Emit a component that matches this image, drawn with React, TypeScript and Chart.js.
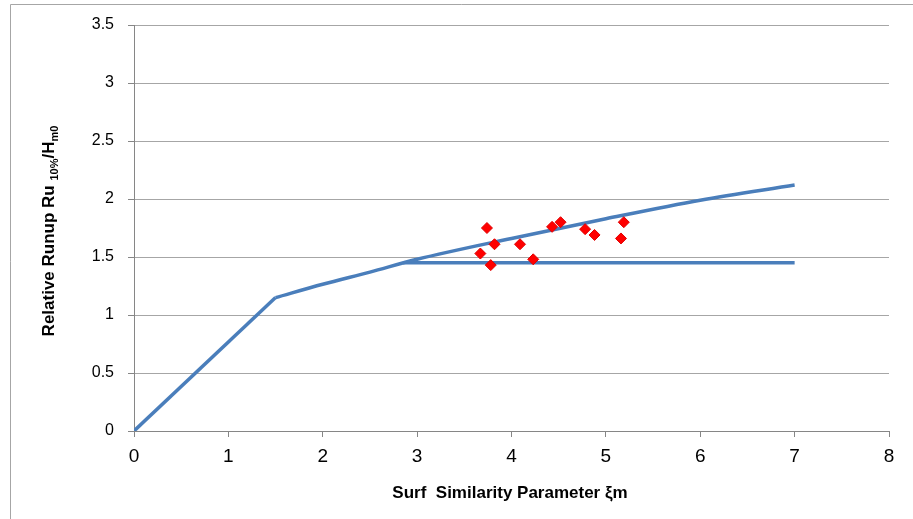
import React, { useEffect, useRef } from "react";
import { Chart, registerables } from "chart.js";

Chart.register(...registerables);

// Straight steep branch
const steepX = [0, 1.5];
const steepY = [0, 1.15];

// Predicted runup curve (upper branch)
const curveX = [1.5, 2.0, 2.5, 3.0, 4.0, 5.0, 6.0, 7.0];
const curveY = [1.15, 1.265, 1.37, 1.48, 1.66, 1.83, 1.99, 2.12];

// Horizontal limit branch
const limitX = [2.85, 7.0];
const limitY = [1.45, 1.45];

// Measured data (red diamonds)
const measX = [3.74, 3.82, 3.67, 3.78, 4.09, 4.23, 4.43, 4.52, 4.78, 4.88, 5.16, 5.19];
const measY = [1.75, 1.61, 1.53, 1.43, 1.61, 1.48, 1.76, 1.8, 1.74, 1.69, 1.66, 1.8];

const xTicks = [0, 1, 2, 3, 4, 5, 6, 7, 8];
const yTicks = [0, 0.5, 1, 1.5, 2, 2.5, 3, 3.5];

const xTitle = "Surf  Similarity Parameter ξm";
const yTitleParts: [string, boolean][] = [
  ["Relative Runup Ru ", false],
  ["10%", true],
  ["/H", false],
  ["m0", true],
];

const toPts = (xs: number[], ys: number[]) => xs.map((x, i) => ({ x, y: ys[i] }));

const decorPlugin = {
  id: "decor",
  afterDraw(chart: any) {
    const ctx = chart.ctx as CanvasRenderingContext2D;
    ctx.save();
    // outer border
    ctx.strokeStyle = "#A6A6A6";
    ctx.lineWidth = 1;
    ctx.beginPath();
    ctx.moveTo(10.5, 519);
    ctx.lineTo(10.5, 4.5);
    ctx.lineTo(913, 4.5);
    ctx.stroke();

    // x title
    ctx.fillStyle = "#000";
    ctx.font = "bold 17px 'Liberation Sans', Arial, sans-serif";
    ctx.textAlign = "center";
    ctx.textBaseline = "alphabetic";
    ctx.fillText(xTitle, 510, 498, 244);

    // y title with subscripts
    const bigFont = "bold 17px 'Liberation Sans', Arial, sans-serif";
    const smallFont = "bold 11px 'Liberation Sans', Arial, sans-serif";
    let total = 0;
    const widths = yTitleParts.map(([t, sub]) => {
      ctx.font = sub ? smallFont : bigFont;
      const w = ctx.measureText(t).width;
      total += w;
      return w;
    });
    ctx.translate(54, 231);
    ctx.rotate(-Math.PI / 2);
    ctx.textAlign = "left";
    let xpos = -total / 2;
    yTitleParts.forEach(([t, sub], i) => {
      ctx.font = sub ? smallFont : bigFont;
      ctx.fillText(t, xpos, sub ? 4 : 0);
      xpos += widths[i];
    });
    ctx.restore();
  },
};

export default function App() {
  const ref = useRef<HTMLCanvasElement>(null);
  useEffect(() => {
    if (!ref.current) return;
    const blue = "#4A7EBB";
    const chart = new Chart(ref.current, {
      type: "scatter",
      data: {
        datasets: [
          {
            label: "Measured",
            data: toPts(measX, measY),
            pointStyle: "rectRot",
            pointRadius: 5.5,
            pointBackgroundColor: "#FF0000",
            pointBorderColor: "#E00000",
            pointBorderWidth: 1,
            showLine: false,
            order: 0,
          },
          {
            label: "Steep",
            data: toPts(steepX, steepY),
            showLine: true,
            borderColor: blue,
            borderWidth: 3.5,
            pointRadius: 0,
            order: 1,
          },
          {
            label: "Curve",
            data: toPts(curveX, curveY),
            showLine: true,
            borderColor: blue,
            borderWidth: 3.5,
            pointRadius: 0,
            cubicInterpolationMode: "monotone",
            order: 1,
          },
          {
            label: "Limit",
            data: toPts(limitX, limitY),
            showLine: true,
            borderColor: blue,
            borderWidth: 3.5,
            pointRadius: 0,
            order: 2,
          },
        ],
      },
      options: {
        responsive: false,
        animation: false,
        devicePixelRatio: 1,
        layout: { padding: { top: 25, right: 24, left: 0, bottom: 0 } },
        plugins: { legend: { display: false }, tooltip: { enabled: false } },
        scales: {
          x: {
            type: "linear",
            min: 0,
            max: 8,
            afterBuildTicks: (s: any) => {
              s.ticks = xTicks.map((v) => ({ value: v }));
            },
            afterFit: (s: any) => {
              s.height = 88;
            },
            grid: {
              drawOnChartArea: false,
              drawTicks: true,
              tickLength: 6,
              color: "#868686",
            },
            border: { color: "#868686", width: 1 },
            ticks: {
              color: "#000",
              padding: 8,
              callback: (v: any) => String(v),
              font: { family: "'Liberation Sans', Arial, sans-serif", size: 19 },
            },
          },
          y: {
            type: "linear",
            min: 0,
            max: 3.5,
            afterBuildTicks: (s: any) => {
              s.ticks = yTicks.map((v) => ({ value: v }));
            },
            afterFit: (s: any) => {
              s.width = 134;
            },
            grid: {
              drawOnChartArea: true,
              drawTicks: true,
              tickLength: 6,
              color: (c: any) => (c.tick && c.tick.value === 0 ? "#868686" : "#A6A6A6"),
              tickColor: "#868686",
            },
            border: { color: "#868686", width: 1 },
            ticks: {
              color: "#000",
              padding: 14,
              callback: (v: any) => String(v),
              font: { family: "'Liberation Sans', Arial, sans-serif", size: 16 },
            },
          },
        },
      },
      plugins: [decorPlugin],
    } as any);
    return () => chart.destroy();
  }, []);
  return (
    <div style={{ position: "absolute", left: 0, top: 0, width: 913, height: 519, background: "#fff" }}>
      <canvas ref={ref} width={913} height={519} />
    </div>
  );
}
